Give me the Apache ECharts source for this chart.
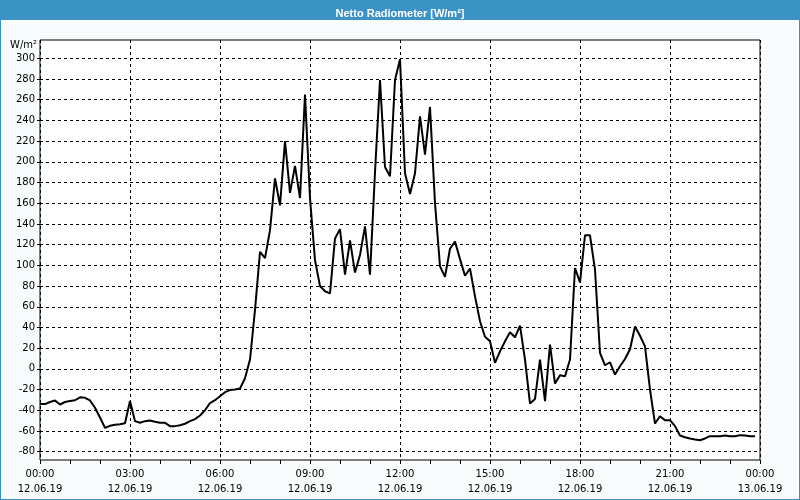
<!DOCTYPE html>
<html>
<head>
<meta charset="utf-8">
<script src="https://cdn.jsdelivr.net/npm/echarts@6/dist/echarts.min.js"></script>
<style>html,body{margin:0;padding:0;background:#f9fcfc}#c{width:800px;height:500px}</style>
</head>
<body>
<div id="c"></div>
<script>
// Data: 10-minute values, 12.06.19 00:00 to 23:50
const stepMinutes = 10;
const values = [
  -34, -34, -32, -30.5, -34.4, -32, -31, -30.3, -27.5, -28,
  -30.5, -37.5, -47, -57, -55, -54, -53.5, -52.5, -31, -50.5,
  -52, -50.5, -49.9, -51, -52, -52.1, -55.3, -55.3, -54.5, -53,
  -50.5, -48.5, -45, -40, -33, -30.3, -26.4, -22.5, -20.5, -20,
  -19, -9, 9, 57, 113, 107, 134, 184, 158, 220,
  170, 196, 165, 265, 165, 105, 80, 75, 73, 126,
  135, 91, 124, 93, 110, 137.6, 91, 190, 279, 195,
  186, 279, 299, 189, 169, 189, 244, 207, 253, 160,
  99, 89, 116, 123, 106, 90, 97, 70, 46, 31,
  26.6, 5.8, 17, 26.6, 35.3, 30.5, 41.8, 9, -33.5, -29,
  9, -31.2, 23.4, -14.2, -6.2, -7.1, 9, 97.4, 83.5, 129,
  129, 95.8, 15.4, 3.5, 6.4, -5.5, 2.5, 9.6, 19, 41,
  32, 21.8, -20, -52.8, -45.7, -49.6, -49.6, -55.3, -64.3, -66,
  -67.2, -68.2, -68.9, -67.2, -65, -65, -65, -64.3, -65, -65,
  -64, -64.3, -65, -65
];
const xTickLabels = [
  '00:00\n12.06.19', '03:00\n12.06.19', '06:00\n12.06.19', '09:00\n12.06.19',
  '12:00\n12.06.19', '15:00\n12.06.19', '18:00\n12.06.19', '21:00\n12.06.19',
  '00:00\n13.06.19'
];
const chartTitle = 'Netto Radiometer [W/m²]';
const unitLabel = 'W/m²';

const seriesData = values.map((v, i) => [i * stepMinutes / 60, v]);
const font = 'DejaVu Sans';
const blue = '#3b93c5';

const chart = echarts.init(document.getElementById('c'), null, {renderer: 'canvas'});
chart.setOption({
  animation: false,
  backgroundColor: '#f9fcfc',
  title: {
    text: chartTitle, left: 'center', top: 3,
    textStyle: {color: '#fff', fontSize: 11, fontWeight: 'bold', fontFamily: 'Liberation Sans'}
  },
  graphic: [
    {type: 'rect', z: -10, shape: {x: 0, y: 0, width: 800, height: 20}, style: {fill: blue}},
    {type: 'rect', z: -10, shape: {x: 0, y: 0, width: 800, height: 500}, style: {fill: 'none', stroke: blue, lineWidth: 2}},
    {type: 'text', left: 10, top: 40, style: {text: unitLabel, fill: '#000', font: '10px "DejaVu Sans"'}}
  ],
  grid: [
    {left: 40, right: 40, top: 40, bottom: 40, show: true, borderColor: '#000', borderWidth: 1, backgroundColor: '#fff'},
    {left: 40, right: 40, top: 58.3, bottom: 48.3}
  ],
  xAxis: [
    {
      gridIndex: 0, type: 'value', min: 0, max: 24, interval: 3,
      axisLine: {show: false},
      axisTick: {show: true, inside: false, length: 4, lineStyle: {color: '#000'}},
      minorTick: {show: true, splitNumber: 3, length: 4, lineStyle: {color: '#000'}},
      splitLine: {show: true, lineStyle: {color: '#000', type: [3, 3], width: 1}},
      axisLabel: {
        formatter: v => xTickLabels[Math.round(v / 3)],
        color: '#000', fontSize: 10, fontFamily: font, lineHeight: 15, margin: 7
      }
    },
    {gridIndex: 1, type: 'value', min: 0, max: 24, show: false}
  ],
  yAxis: [
    {gridIndex: 0, type: 'value', min: 0, max: 1, show: false},
    {
      gridIndex: 1, type: 'value', min: -80, max: 300, interval: 20,
      axisLine: {show: false},
      axisTick: {show: true, inside: false, length: 3, lineStyle: {color: '#000'}},
      splitLine: {show: true, lineStyle: {color: '#000', type: [3, 3], width: 1}},
      axisLabel: {color: '#000', fontSize: 10, fontFamily: font, margin: 5}
    }
  ],
  series: [{
    type: 'line', xAxisIndex: 1, yAxisIndex: 1, data: seriesData,
    symbol: 'none', showSymbol: false,
    lineStyle: {color: '#000', width: 2}
  }]
});
</script>
</body>
</html>
